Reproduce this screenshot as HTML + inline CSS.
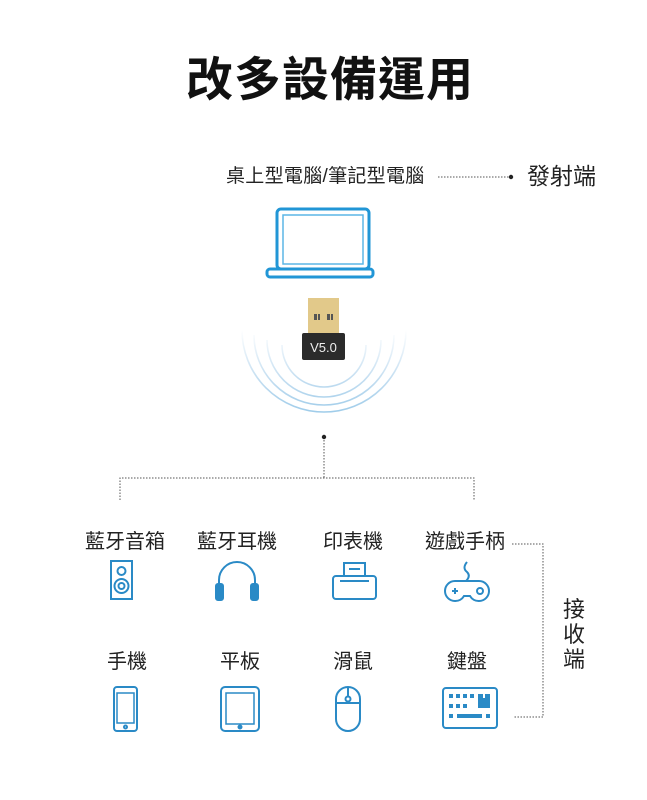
<!DOCTYPE html>
<html><head><meta charset="utf-8"><style>
body{margin:0;background:#fff;}
#c{position:relative;width:647px;height:800px;overflow:hidden;font-family:"Liberation Sans","Noto Sans CJK TC",sans-serif;color:#222;}
.t{position:absolute;white-space:nowrap;line-height:1;}
</style></head><body><div id="c">
<div class="t" style="left:186px;top:56px;font-size:47px;font-weight:bold;letter-spacing:1px;color:#111">改多設備運用</div>
<div class="t" style="left:226px;top:167px;font-size:19px;letter-spacing:0.3px">桌上型電腦/筆記型電腦</div>
<div class="t" style="left:527px;top:165px;font-size:23px">發射端</div>
<div class="t" style="left:85px;top:532px;font-size:20px">藍牙音箱</div>
<div class="t" style="left:197px;top:532px;font-size:20px">藍牙耳機</div>
<div class="t" style="left:323px;top:532px;font-size:20px">印表機</div>
<div class="t" style="left:425px;top:532px;font-size:20px">遊戲手柄</div>
<div class="t" style="left:107px;top:652px;font-size:20px">手機</div>
<div class="t" style="left:220px;top:652px;font-size:20px">平板</div>
<div class="t" style="left:333px;top:652px;font-size:20px">滑鼠</div>
<div class="t" style="left:447px;top:652px;font-size:20px">鍵盤</div>
<div class="t" style="left:563px;top:597px;font-size:22px;width:24px;line-height:25px;white-space:normal">接收端</div>
<svg width="647" height="800" style="position:absolute;left:0;top:0">
<defs><linearGradient id="g" gradientUnits="userSpaceOnUse" x1="0" y1="330" x2="0" y2="428"><stop offset="0" stop-color="#fff"/><stop offset="0.5" stop-color="#c4def1"/><stop offset="1" stop-color="#8ec4e6"/></linearGradient></defs>
<g stroke="#555" stroke-width="1" stroke-dasharray="1.5 1.5" fill="none">
<line x1="438" y1="177" x2="509" y2="177"/>
<line x1="324" y1="437" x2="324" y2="478"/>
<polyline points="120,500 120,478 474,478 474,500"/>
<polyline points="512,544 543,544 543,717 514,717"/>
</g>
<circle cx="511" cy="177" r="2.2" fill="#222"/>
<circle cx="324" cy="437" r="2.2" fill="#222"/>
<g fill="none" stroke="#2196d6" stroke-width="3">
<rect x="277" y="209" width="92" height="60" rx="4"/>
<rect x="283" y="215" width="80" height="49" stroke-width="1.5" stroke="#5bb5e6"/>
<rect x="267" y="269" width="106" height="8" rx="3"/>
</g>
<g fill="none" stroke="url(#g)" stroke-width="1.6">
<path d="M282,345 A42,42 0 0 0 366,345"/>
<path d="M267,340 A57,57 0 0 0 381,340"/>
<path d="M254,335 A70,70 0 0 0 394,335"/>
<path d="M242,330 A82,82 0 0 0 406,330"/>
</g>
<rect x="308" y="298" width="31" height="36" fill="#e2c98a"/>
<rect x="314" y="314" width="3" height="6" fill="#555"/><rect x="318" y="314" width="2" height="6" fill="#555"/>
<rect x="327" y="314" width="3" height="6" fill="#555"/><rect x="331" y="314" width="2" height="6" fill="#555"/>
<rect x="302" y="333" width="43" height="27" rx="2" fill="#2b2b2b"/>
<text x="323.5" y="352" font-size="13" fill="#eee" text-anchor="middle" font-family="Liberation Sans">V5.0</text>
<g fill="none" stroke="#2a8ac6" stroke-width="2">
<rect x="111" y="561" width="21" height="38"/>
<circle cx="121.5" cy="571" r="4"/><circle cx="121.5" cy="586" r="7"/><circle cx="121.5" cy="586" r="3"/>
<path d="M219,592 V580 A18,18 0 0 1 255,580 V592"/>
<rect x="216" y="584" width="7" height="16" rx="2" fill="#2a8ac6"/>
<rect x="251" y="584" width="7" height="16" rx="2" fill="#2a8ac6"/>
<rect x="333" y="576" width="43" height="23" rx="3"/>
<path d="M344,576 V563 H365 V576"/><line x1="349" y1="569" x2="360" y2="569"/><line x1="340" y1="581" x2="369" y2="581"/>
<path d="M467,562 q-5,6 0,10 q4,4 -1,9"/>
<path d="M455,581 H479 A10,10 0 0 1 479,601 A10,10 0 0 1 470,596 H464 A10,10 0 0 1 455,601 A10,10 0 0 1 455,581Z"/>
<path d="M452,591 h6 M455,588 v6"/><circle cx="480" cy="591" r="3"/>
<rect x="114" y="687" width="23" height="44" rx="3"/><rect x="117" y="693" width="17" height="30" stroke-width="1.5"/><circle cx="125.5" cy="727" r="1.5"/>
<rect x="221" y="687" width="38" height="44" rx="4"/><rect x="226" y="693" width="28" height="31" stroke-width="1.5"/><circle cx="240" cy="727" r="1.5" fill="#2a8ac6"/>
<rect x="336" y="687" width="24" height="44" rx="12"/><line x1="348" y1="687" x2="348" y2="697"/><circle cx="348" cy="699" r="2.5"/><line x1="336" y1="703" x2="360" y2="703"/>
<rect x="443" y="688" width="54" height="40" rx="3"/>
</g>
<g fill="#2a8ac6">
<rect x="449" y="694" width="4" height="4"/><rect x="456" y="694" width="4" height="4"/><rect x="463" y="694" width="4" height="4"/><rect x="470" y="694" width="4" height="4"/><rect x="478" y="694" width="5" height="4"/>
<rect x="449" y="704" width="4" height="4"/><rect x="456" y="704" width="4" height="4"/><rect x="463" y="704" width="4" height="4"/><rect x="478" y="698" width="12" height="10"/><rect x="485" y="694" width="5" height="6"/>
<rect x="449" y="714" width="4" height="4"/><rect x="457" y="714" width="25" height="4"/><rect x="486" y="714" width="4" height="4"/>
</g>
</svg>
</div></body></html>
